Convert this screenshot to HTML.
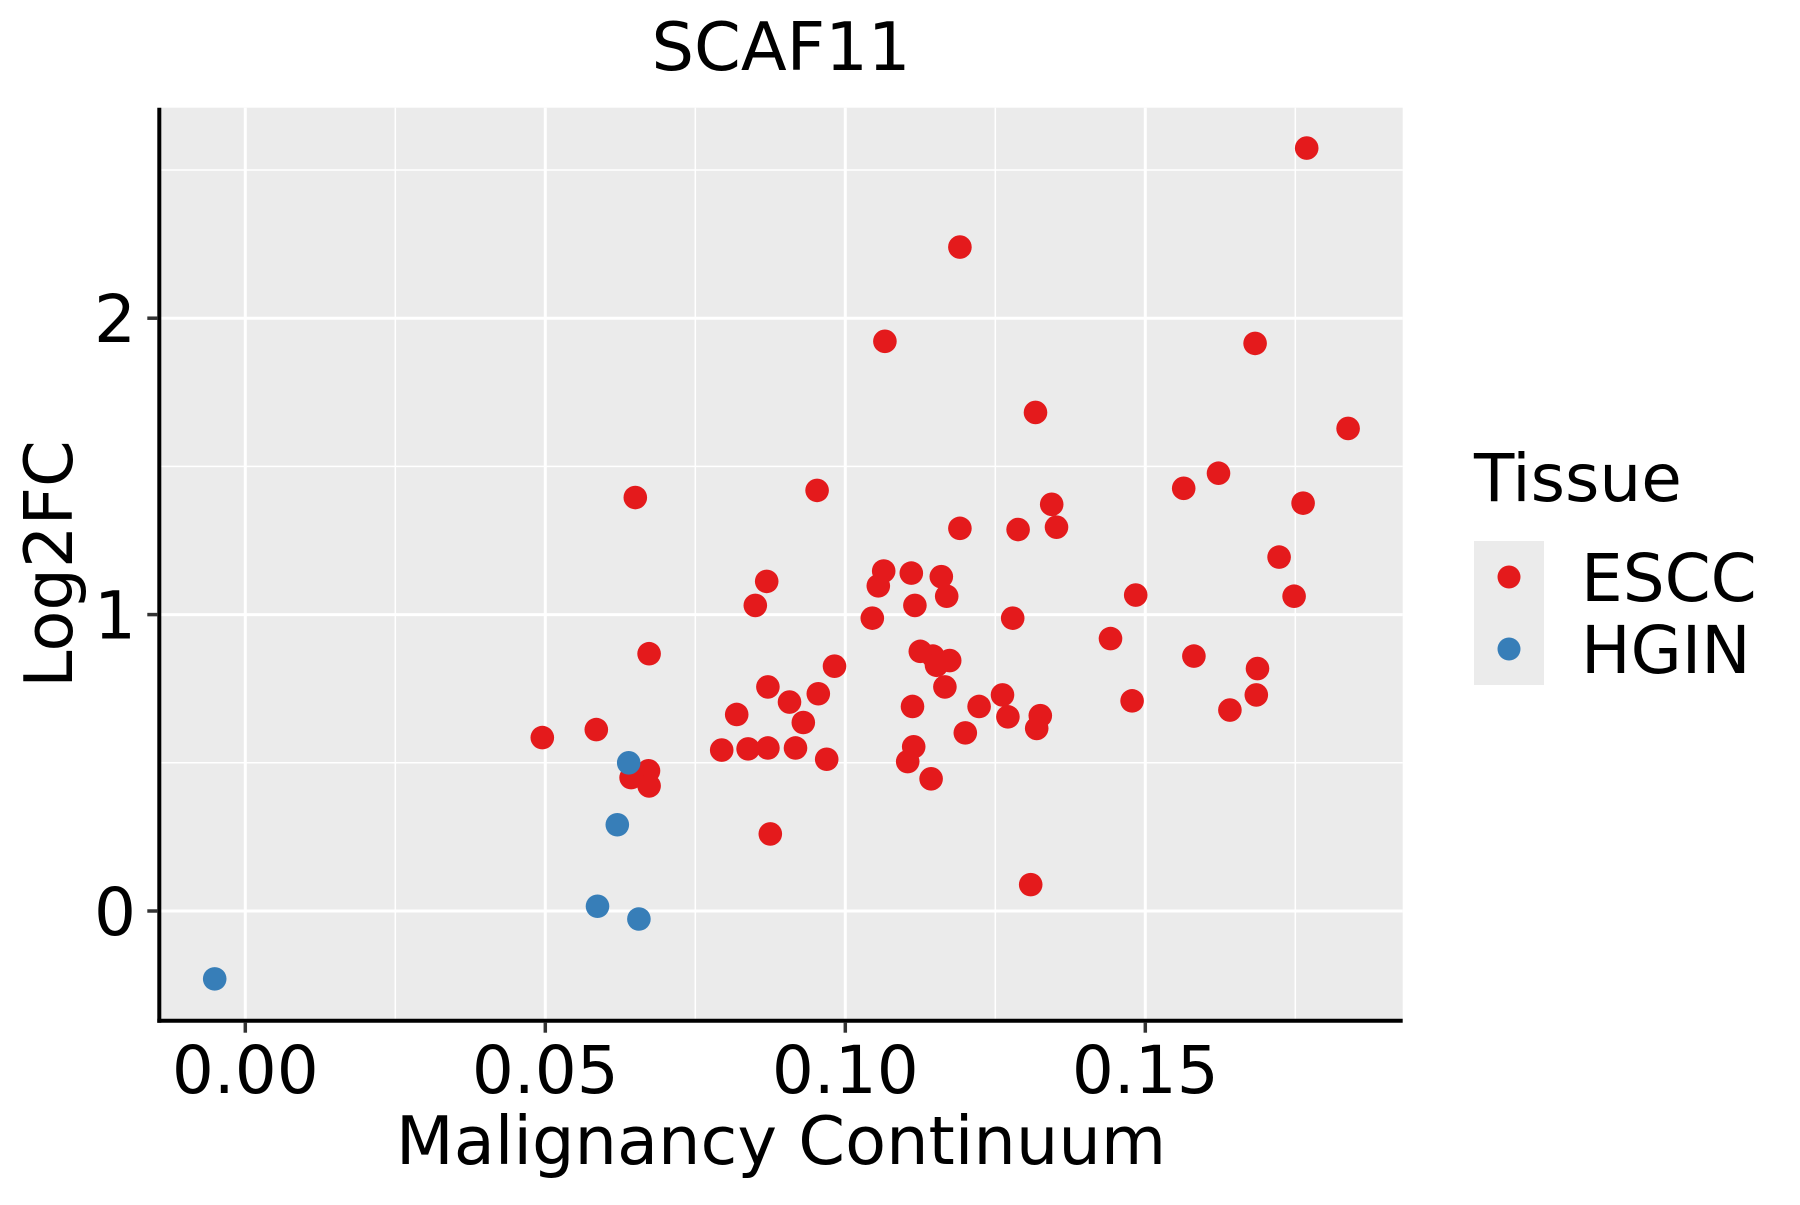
<!DOCTYPE html>
<html><head><meta charset="utf-8"><style>
body{margin:0;background:#fff}
svg text{font-family:"DejaVu Sans","Liberation Sans",sans-serif;fill:#000}
</style></head><body>
<svg id="chart" width="1800" height="1200" viewBox="0 0 1800 1200" xmlns="http://www.w3.org/2000/svg">
<rect width="1800" height="1200" fill="#fff"/>
<g id="grid"></g>
<g id="pts"></g>
<g id="axes"></g>
<text x="781" y="70" font-size="67" text-anchor="middle">SCAF11</text>
<text x="781" y="1164" font-size="67" text-anchor="middle">Malignancy Continuum</text>
<text transform="translate(72,564) rotate(-90)" font-size="67" text-anchor="middle">Log2FC</text>
<g>
<text x="1474" y="501" font-size="66">Tissue</text>
<rect x="1474" y="541" width="70" height="144" fill="#ebebeb"/>
<circle cx="1509" cy="577" r="11.5" fill="#e41a1c"/>
<circle cx="1509" cy="649" r="11.5" fill="#377eb8"/>
<text x="1581" y="601" font-size="66">ESCC</text>
<text x="1581" y="673" font-size="66">HGIN</text>
</g>
</svg>
<script>
const xMajor=[0,0.05,0.10,0.15];
const xTickLabels=["0.00","0.05","0.10","0.15"];
const xMinor=[0.025,0.075,0.125,0.175];
const yMajor=[0,1,2];
const yTickLabels=["0","1","2"];
const yMinor=[0.5,1.5,2.5];
const hginX=[-0.0051,0.0587,0.0656,0.0620,0.0639];
const hginY=[-0.229,0.016,-0.027,0.291,0.500];
const esccX=[0.0495,0.0585,0.0650,0.0673,0.0643,0.0672,0.0673,0.0794,0.0819,0.0838,0.0850,0.0869,0.0871,0.0871,0.0875,0.0907,0.0917,0.0930,0.0953,0.0955,0.0969,0.0982,0.1045,0.1055,0.1064,0.1066,0.1110,0.1116,0.1112,0.1114,0.1104,0.1125,0.1146,0.1152,0.1160,0.1169,0.1166,0.1174,0.1143,0.1191,0.1191,0.1200,0.1223,0.1262,0.1271,0.1279,0.1288,0.1317,0.1325,0.1319,0.1309,0.1344,0.1352,0.1442,0.1478,0.1484,0.1564,0.1581,0.1622,0.1641,0.1683,0.1687,0.1685,0.1723,0.1748,0.1763,0.1769,0.1838];
const esccY=[0.585,0.612,1.395,0.868,0.450,0.473,0.422,0.543,0.663,0.547,1.031,1.112,0.756,0.550,0.260,0.705,0.550,0.636,1.419,0.733,0.512,0.826,0.988,1.097,1.147,1.922,1.140,1.031,0.690,0.554,0.504,0.876,0.860,0.829,1.128,1.062,0.756,0.845,0.446,2.240,1.291,0.601,0.690,0.729,0.655,0.988,1.287,1.682,0.659,0.616,0.089,1.372,1.295,0.919,0.709,1.066,1.426,0.860,1.477,0.678,1.915,0.818,0.729,1.194,1.062,1.376,2.574,1.628];

const L=159.3,R=1402.7,T=107.7,B=1020.7;
const xs=v=>245.3+v*6000;
const ys=v=>911-v*296.4;
const NS="http://www.w3.org/2000/svg";
function mk(tag,attrs,parent){const e=document.createElementNS(NS,tag);for(const k in attrs)e.setAttribute(k,attrs[k]);parent.appendChild(e);return e;}
const grid=document.getElementById('grid');
const bg=mk('rect',{x:L,y:T,width:R-L,height:B-T,fill:'#ebebeb'},grid);


xMinor.forEach(v=>{const l=mk('line',{x1:xs(v),x2:xs(v),y1:T,y2:B,stroke:'#fff','stroke-width':1.5},grid);

});
yMinor.forEach(v=>{const l=mk('line',{x1:L,x2:R,y1:ys(v),y2:ys(v),stroke:'#fff','stroke-width':1.5},grid);

});
xMajor.forEach(v=>{const l=mk('line',{x1:xs(v),x2:xs(v),y1:T,y2:B,stroke:'#fff','stroke-width':3},grid);

});
yMajor.forEach(v=>{const l=mk('line',{x1:L,x2:R,y1:ys(v),y2:ys(v),stroke:'#fff','stroke-width':3},grid);

});
const pts=document.getElementById('pts');
esccX.forEach((v,i)=>{const c=mk('circle',{cx:xs(v),cy:ys(esccY[i]),r:11.8,fill:'#e41a1c'},pts);

});
hginX.forEach((v,i)=>{const c=mk('circle',{cx:xs(v),cy:ys(hginY[i]),r:11.8,fill:'#377eb8'},pts);

});
const ax=document.getElementById('axes');
const xl=mk('line',{x1:L-2,x2:R,y1:B,y2:B,stroke:'#000','stroke-width':4},ax);


const yl=mk('line',{x1:L,x2:L,y1:T,y2:B+2,stroke:'#000','stroke-width':4},ax);


xMajor.forEach((v,i)=>{
const t=mk('line',{x1:xs(v),x2:xs(v),y1:B+2,y2:B+12,stroke:'#333','stroke-width':3.5},ax);


const tx=mk('text',{x:xs(v),y:1093,'font-size':66,'text-anchor':'middle'},ax);
tx.textContent=xTickLabels[i];

});
yMajor.forEach((v,i)=>{
const t=mk('line',{x1:L-12,x2:L-2,y1:ys(v),y2:ys(v),stroke:'#333','stroke-width':3.5},ax);


const tx=mk('text',{x:136,y:ys(v)+24,'font-size':66,'text-anchor':'end'},ax);
tx.textContent=yTickLabels[i];

});
</script>
</body></html>
